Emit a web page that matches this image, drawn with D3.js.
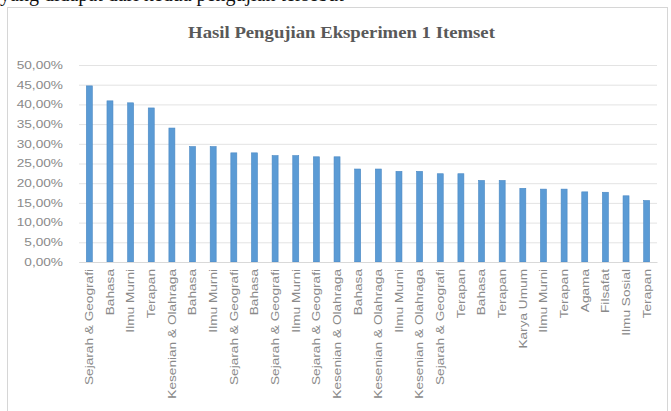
<!DOCTYPE html>
<html>
<head>
<meta charset="utf-8">
<script src="https://cdn.jsdelivr.net/npm/d3@7"></script>
<style>
  html, body { margin: 0; padding: 0; background: #ffffff; }
  svg { display: block; }
</style>
</head>
<body>
<svg id="chart" width="671" height="411"></svg>
<script>
const titleText = "Hasil Pengujian Eksperimen 1 Itemset";
const captionText = "yang didapat dari kedua pengujian tersebut";
const categories = [
  "Sejarah & Geografi", "Bahasa", "Ilmu Murni", "Terapan", "Kesenian & Olahraga",
  "Bahasa", "Ilmu Murni", "Sejarah & Geografi", "Bahasa", "Sejarah & Geografi",
  "Ilmu Murni", "Sejarah & Geografi", "Kesenian & Olahraga", "Bahasa", "Kesenian & Olahraga",
  "Ilmu Murni", "Kesenian & Olahraga", "Sejarah & Geografi", "Terapan", "Bahasa",
  "Terapan", "Karya Umum", "Ilmu Murni", "Terapan", "Agama",
  "Filsafat", "Ilmu Sosial", "Terapan"
];
const values = [
  44.7, 40.9, 40.4, 39.1, 34.0,
  29.3, 29.3, 27.7, 27.7, 27.0,
  27.0, 26.7, 26.7, 23.6, 23.6,
  23.0, 23.0, 22.4, 22.4, 20.7,
  20.7, 18.7, 18.5, 18.5, 17.8,
  17.7, 16.8, 15.6
];
const yTicks = [0, 5, 10, 15, 20, 25, 30, 35, 40, 45, 50];

const svg = d3.select("#chart");
const data = categories.map((c, i) => ({ key: i, label: c, value: values[i] }));

const plotLeft = 79, plotRight = 657, plotTop = 65, plotBottom = 262;
const x = d3.scaleBand().domain(data.map(d => d.key)).range([plotLeft, plotRight]).paddingInner(0.71).paddingOuter(0.355);
const y = d3.scaleLinear().domain([0, 50]).range([plotBottom, plotTop]);

const stretch = (sel, k) => sel.each(function () {
  const len = this.getComputedTextLength();
  d3.select(this).attr("textLength", len * k).attr("lengthAdjust", "spacingAndGlyphs");
});

// caption cut at top (text of surrounding document)
svg.append("text")
  .attr("x", 0).attr("y", 1)
  .attr("font-family", "'Liberation Serif', 'DejaVu Serif', serif")
  .attr("font-size", 20)
  .attr("fill", "#111")
  .text(captionText);

// chart frame
svg.append("rect")
  .attr("x", 7.5).attr("y", 7.5).attr("width", 660).attr("height", 410)
  .attr("fill", "#ffffff").attr("stroke", "#d6d6d6");

// title
svg.append("text")
  .attr("x", (172 + 511) / 2).attr("y", 38)
  .attr("text-anchor", "middle")
  .attr("font-family", "'Liberation Serif', 'DejaVu Serif', serif")
  .attr("font-weight", "bold")
  .attr("font-size", 16)
  .attr("fill", "#595959")
  .text(titleText)
  .call(stretch, 1.17);

// gridlines + y labels
const yAxis = d3.axisLeft(y).tickValues(yTicks)
  .tickFormat(d => d3.format(".2f")(d).replace(".", ",") + "%")
  .tickSize(-(plotRight - plotLeft)).tickPadding(16);
const gy = svg.append("g").attr("transform", `translate(${plotLeft},0)`).call(yAxis);
gy.select(".domain").remove();
gy.selectAll(".tick line").attr("stroke", "#e3e3e3").attr("stroke-width", 1);
gy.selectAll(".tick text")
  .attr("font-family", "'Liberation Sans', Arial, sans-serif")
  .attr("font-size", 10.5)
  .attr("fill", "#8a8a8a")
  .call(stretch, 1.3);

// bars
svg.append("g").selectAll("rect").data(data).join("rect")
  .attr("x", d => x(d.key))
  .attr("y", d => y(d.value))
  .attr("width", x.bandwidth())
  .attr("height", d => y(0) - y(d.value))
  .attr("fill", "#5b9bd5")
  .attr("stroke", "#4a88c4").attr("stroke-width", 0.6);

// x axis
const xAxis = d3.axisBottom(x).tickSize(0).tickPadding(0).tickFormat(k => categories[k]);
const gx = svg.append("g").attr("transform", `translate(0,${plotBottom})`).call(xAxis);
gx.select(".domain").attr("stroke", "#d9d9d9");
gx.selectAll(".tick text")
  .attr("font-family", "'Liberation Sans', Arial, sans-serif")
  .attr("font-size", 11)
  .attr("fill", "#8a8a8a")
  .attr("text-anchor", "end")
  .attr("dy", "0.35em")
  .attr("transform", "translate(0,7) rotate(-90)")
  .attr("y", 0).attr("x", 0)
  .call(stretch, 1.24);
</script>
</body>
</html>
